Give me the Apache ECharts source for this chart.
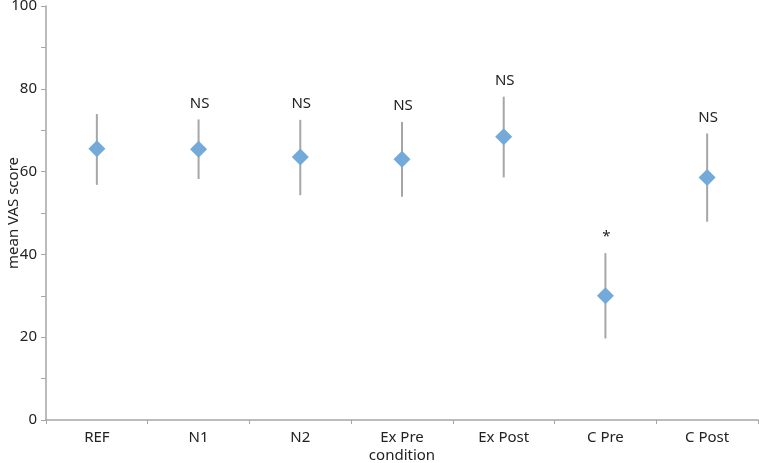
<!DOCTYPE html>
<html>
<head>
<meta charset="utf-8">
<script src="https://cdn.jsdelivr.net/npm/echarts@6/dist/echarts.min.js"></script>
<style>
  html, body { margin: 0; padding: 0; background: #fff; }
  #chart { width: 759px; height: 463px; }
</style>
</head>
<body>
<div id="chart"></div>
<script>
var categories = ["REF", "N1", "N2", "Ex Pre", "Ex Post", "C Pre", "C Post"];
var means = [65.5, 65.4, 63.5, 63.0, 68.4, 30.0, 58.6];
var upper = [73.9, 72.6, 72.5, 72.0, 78.1, 40.3, 69.2];
var lower = [56.8, 58.2, 54.3, 53.9, 58.6, 19.7, 47.9];
var marks = ["", "NS", "NS", "NS", "NS", "*", "NS"];

var font = "Noto Sans";
var chart = echarts.init(document.getElementById("chart"));

var errData = categories.map(function (c, i) {
  return [i, lower[i], upper[i], marks[i]];
});

var option = {
  animation: false,
  grid: { left: 46, right: 1, top: 6, bottom: 43, outerBoundsMode: "none", containLabel: false },
  xAxis: {
    type: "category",
    data: categories,
    name: "condition",
    nameLocation: "middle",
    nameGap: 28,
    nameMoveOverlap: false,
    nameTextStyle: { fontFamily: font, fontSize: 15, color: "#222" },
    axisLine: { lineStyle: { color: "#a6a6a6", width: 1.5 } },
    axisTick: { show: true, inside: false, length: 4, lineStyle: { color: "#a6a6a6" } },
    axisLabel: { fontFamily: font, fontSize: 15, color: "#222", margin: 10 }
  },
  yAxis: {
    type: "value",
    min: 0,
    max: 100,
    interval: 10,
    name: "mean VAS score",
    nameLocation: "middle",
    nameGap: 25,
    nameMoveOverlap: false,
    nameTextStyle: { fontFamily: font, fontSize: 15, color: "#222" },
    splitLine: { show: false },
    axisLine: { show: true, lineStyle: { color: "#a6a6a6", width: 1.5 } },
    axisTick: { show: true, length: 5, lineStyle: { color: "#a6a6a6" } },
    axisLabel: {
      fontFamily: font, fontSize: 15, color: "#222", margin: 9,
      formatter: function (v) { return v % 20 === 0 ? v : ""; }
    }
  },
  series: [
    {
      type: "custom",
      data: errData,
      z: 1,
      renderItem: function (params, api) {
        var top = api.coord([api.value(0), api.value(2)]);
        var bot = api.coord([api.value(0), api.value(1)]);
        var lbl = marks[params.dataIndex];
        var children = [{
          type: "line",
          shape: { x1: top[0], y1: top[1], x2: bot[0], y2: bot[1] },
          style: { stroke: "#a6a6a6", lineWidth: 2 }
        }];
        if (lbl) {
          children.push({
            type: "text",
            style: {
              text: lbl,
              x: top[0] + 1,
              y: top[1] - 16,
              align: "center",
              verticalAlign: "middle",
              fontFamily: font,
              fontSize: 15,
              fill: "#222"
            }
          });
        }
        return { type: "group", children: children };
      }
    },
    {
      type: "scatter",
      data: means,
      symbol: "diamond",
      symbolSize: [17, 17],
      z: 2,
      itemStyle: { color: "#73aad9", opacity: 1 }
    }
  ]
};
chart.setOption(option);
</script>
</body>
</html>
